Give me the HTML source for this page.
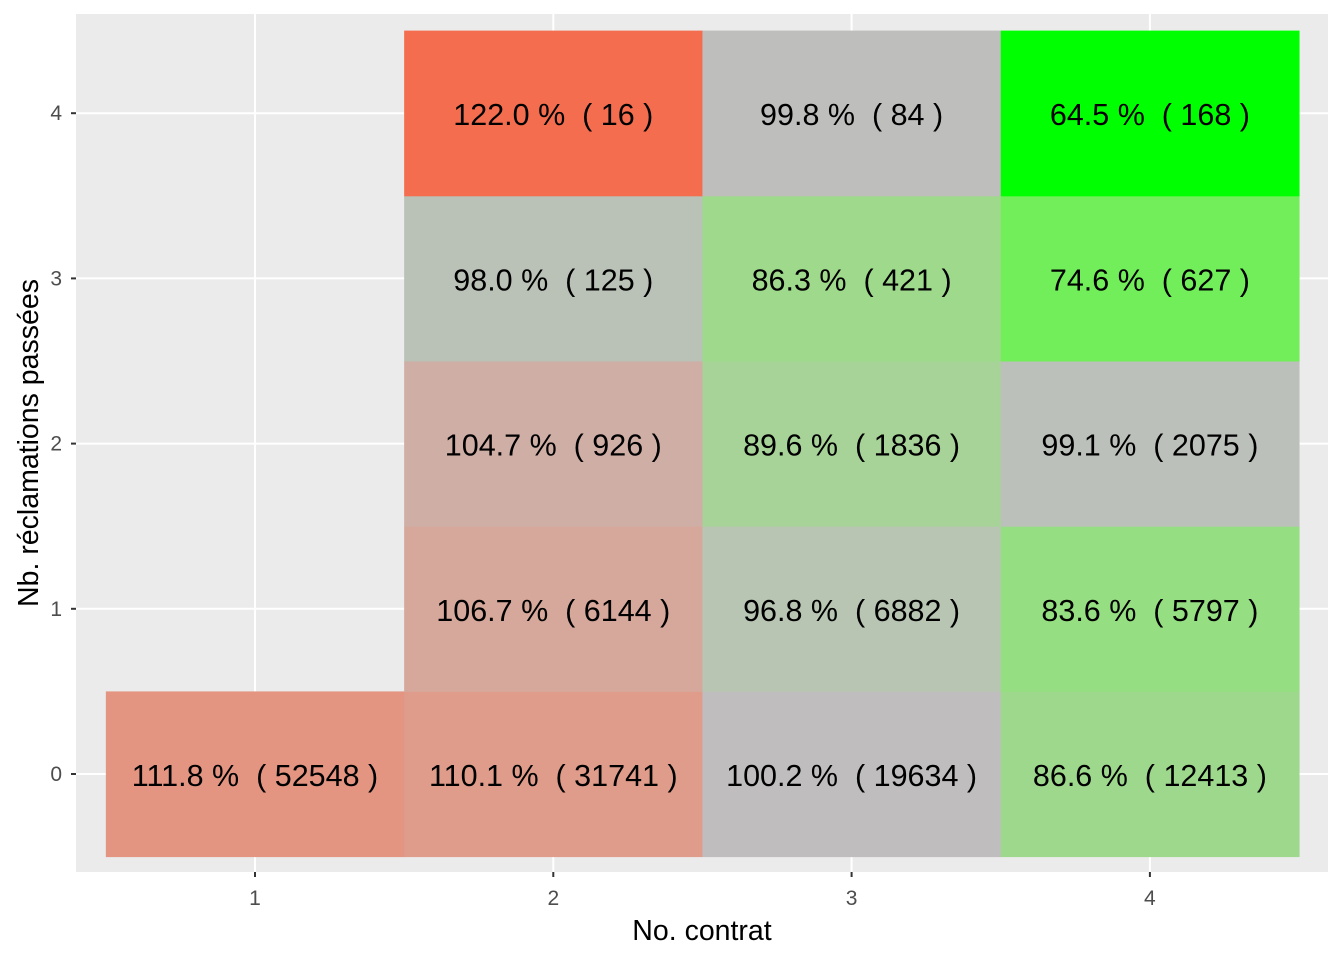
<!DOCTYPE html>
<html><head><meta charset="utf-8"><style>
body{margin:0;background:#fff;}
svg{display:block;font-family:"Liberation Sans",Arial,sans-serif;}
.pre{white-space:pre;}
</style></head><body>
<svg id="chart" width="1344" height="960" viewBox="0 0 1344 960">
<rect x="76" y="14" width="1252" height="858" fill="#EBEBEB"/>
<g id="grid"></g><g id="tiles"></g><g id="axes"></g>
<text x="702" y="940" font-size="28.5" text-anchor="middle" fill="#000">No. contrat</text>
<text transform="translate(38,443) rotate(-90)" font-size="28.5" text-anchor="middle" fill="#000">Nb. réclamations passées</text>
</svg>
<script>
const xCats=[1,2,3,4];
const yCats=[0,1,2,3,4];
const cellX=[1,2,3,4, 2,3,4, 2,3,4, 2,3,4, 2,3,4];
const cellY=[0,0,0,0, 1,1,1, 2,2,2, 3,3,3, 4,4,4];
const ratios=[111.8,110.1,100.2,86.6, 106.7,96.8,83.6, 104.7,89.6,99.1, 98.0,86.3,74.6, 122.0,99.8,64.5];
const counts=[52548,31741,19634,12413, 6144,6882,5797, 926,1836,2075, 125,421,627, 16,84,168];

const NS="http://www.w3.org/2000/svg";
function el(t,a,p){const e=document.createElementNS(NS,t);for(const k in a)e.setAttribute(k,a[k]);p.appendChild(e);return e;}
const sx=v=>255+(v-1)*298.3;
const sy=v=>774-v*165.2;
const tw=298.3, th=165.2;
function toLab(h){let r=parseInt(h.slice(1,3),16)/255,g=parseInt(h.slice(3,5),16)/255,b=parseInt(h.slice(5,7),16)/255;
 const l=c=>c>0.04045?Math.pow((c+0.055)/1.055,2.4):c/12.92;r=l(r);g=l(g);b=l(b);
 let X=(r*0.4124+g*0.3576+b*0.1805)/0.95047,Y=r*0.2126+g*0.7152+b*0.0722,Z=(r*0.0193+g*0.1192+b*0.9505)/1.08883;
 const f=t=>t>0.008856?Math.cbrt(t):7.787*t+16/116;X=f(X);Y=f(Y);Z=f(Z);return[116*Y-16,500*(X-Y),200*(Y-Z)];}
function fromLab(L){let Y=(L[0]+16)/116,X=L[1]/500+Y,Z=Y-L[2]/200;const f=t=>t*t*t>0.008856?t*t*t:(t-16/116)/7.787;
 X=f(X)*0.95047;Y=f(Y);Z=f(Z)*1.08883;let r=X*3.2406+Y*-1.5372+Z*-0.4986,g=X*-0.9689+Y*1.8758+Z*0.0415,b=X*0.0557+Y*-0.2040+Z*1.0570;
 const c=v=>{v=v>0.0031308?1.055*Math.pow(v,1/2.4)-0.055:12.92*v;return Math.round(Math.max(0,Math.min(1,v))*255);};
 return `rgb(${c(r)},${c(g)},${c(b)})`;}
const mid=toLab("#BEBEBE"),hi=toLab("#F46D4F"),lo=toLab("#00FF00");
const rmax=Math.max(...ratios),rmin=Math.min(...ratios);
function col(v){let t,e;if(v>=100){t=(v-100)/(rmax-100);e=hi;}else{t=(100-v)/(100-rmin);e=lo;}
 return fromLab(mid.map((m,i)=>m+(e[i]-m)*t));}
const grid=document.getElementById('grid'),tiles=document.getElementById('tiles'),axes=document.getElementById('axes');
xCats.forEach(v=>{const l=el('line',{x1:sx(v),x2:sx(v),y1:14,y2:872,stroke:'#fff','stroke-width':2},grid);

const t=el('line',{x1:sx(v),x2:sx(v),y1:872,y2:877,stroke:'#333','stroke-width':2},axes);

const tx=el('text',{x:sx(v),y:905,'font-size':21,'text-anchor':'middle',fill:'#4D4D4D'},axes);tx.textContent=v;
});
yCats.forEach(v=>{const l=el('line',{x1:76,x2:1328,y1:sy(v),y2:sy(v),stroke:'#fff','stroke-width':2},grid);

const t=el('line',{x1:71,x2:76,y1:sy(v),y2:sy(v),stroke:'#333','stroke-width':2},axes);

const tx=el('text',{x:62,y:sy(v)+7,'font-size':21,'text-anchor':'end',fill:'#4D4D4D'},axes);tx.textContent=v;
});
ratios.forEach((r,i)=>{const cx=sx(cellX[i]),cy=sy(cellY[i]);
const rc=el('rect',{x:cx-tw/2,y:cy-th/2,width:tw+0.5,height:th+0.5,fill:col(r)},tiles);

const t=el('text',{x:cx,y:cy+12,'font-size':30.5,'text-anchor':'middle',fill:'#000','class':'pre'},tiles);
t.textContent=r.toFixed(1)+' %  ( '+counts[i]+' )';
});
</script>
</body></html>
